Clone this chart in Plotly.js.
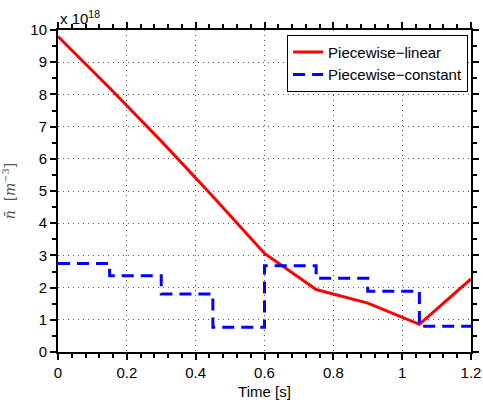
<!DOCTYPE html>
<html>
<head>
<meta charset="utf-8">
<script src="https://cdn.plot.ly/plotly-3.0.1.min.js"></script>
<style>html,body{margin:0;padding:0;background:#fff;}#chart{width:483px;height:405px;}</style>
</head>
<body>
<div id="chart"></div>
<script>
// Time breakpoints [s]
var timePoints = [0, 0.15, 0.3, 0.45, 0.6, 0.75, 0.9, 1.05, 1.2];
// Mean density, in units of 1e18 m^-3
var linearValues = [9.8, 8.2, 6.55, 4.83, 3.06, 1.94, 1.52, 0.86, 2.27];
var constantValues = [2.75, 2.37, 1.8, 0.77, 2.68, 2.29, 1.89, 0.8, 0.8];
var seriesNames = ['Piecewise\u2212linear', 'Piecewise\u2212constant'];
var xTickVals = [0, 0.2, 0.4, 0.6, 0.8, 1, 1.2];
var xTickText = ['0', '0.2', '0.4', '0.6', '0.8', '1', '1.2'];
var yTickVals = [0, 1, 2, 3, 4, 5, 6, 7, 8, 9, 10];

var font = 'Liberation Sans, Arial, Helvetica, sans-serif';

var traces = [
  {x: timePoints, y: linearValues, name: seriesNames[0], mode: 'lines',
   line: {color: '#ff0000', width: 3}},
  {x: timePoints, y: constantValues, name: seriesNames[1], mode: 'lines',
   line: {color: '#0000ff', width: 3, dash: '12px,7px', shape: 'hv'}}
];

var axisCommon = {
  showline: true, linecolor: '#000', linewidth: 2, mirror: 'allticks',
  ticks: 'outside', ticklen: 6, tickwidth: 2, tickcolor: '#000',
  showgrid: true, gridcolor: '#555', gridwidth: 1, griddash: '1px,4px',
  zeroline: false, tickfont: {family: font, size: 15, color: '#000'}
};

var layout = {
  width: 483, height: 405,
  margin: {l: 58, r: 12, t: 30, b: 53},
  paper_bgcolor: '#fff', plot_bgcolor: '#fff',
  showlegend: true,
  xaxis: Object.assign({}, axisCommon, {
    range: [0, 1.2], tickvals: xTickVals, ticktext: xTickText,
    minor: {dtick: 0.04, tick0: 0, ticks: 'outside', ticklen: 4, tickwidth: 2, tickcolor: '#000', showgrid: false},
    title: {text: 'Time [s]', font: {family: font, size: 15, color: '#000'}, standoff: 6}
  }),
  yaxis: Object.assign({}, axisCommon, {
    range: [0, 10], tickvals: yTickVals,
    minor: {dtick: 0.5, tick0: 0, ticks: 'outside', ticklen: 4, tickwidth: 2, tickcolor: '#000', showgrid: false},
    title: {text: '<i>n\u0304</i>  [<i>m</i><sup>\u22123</sup>]', font: {family: 'DejaVu Serif, Liberation Serif, serif', size: 14, color: '#555'}, standoff: 12}
  }),
  legend: {
    x: 0.993, xanchor: 'right', y: 0.985, yanchor: 'top',
    bgcolor: '#fff', bordercolor: '#000', borderwidth: 1,
    font: {family: font, size: 15, color: '#000'},
    tracegroupgap: 0
  },
  annotations: [{
    xref: 'paper', yref: 'paper', x: 0, y: 1, xanchor: 'left', yanchor: 'bottom',
    yshift: 1, showarrow: false, text: 'x 10<sup>18</sup>',
    font: {family: font, size: 15, color: '#000'}
  }]
};

Plotly.newPlot('chart', traces, layout, {displayModeBar: false, staticPlot: true});
</script>
</body>
</html>
